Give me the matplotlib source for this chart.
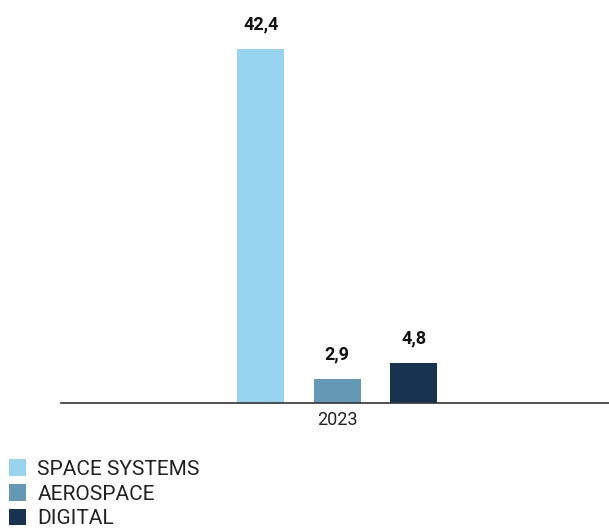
import numpy as np
import matplotlib.pyplot as plt

plt.rcParams['font.family'] = ['Roboto', 'DejaVu Sans']

year = "2023"
series = ["SPACE SYSTEMS", "AEROSPACE", "DIGITAL"]
values = [42.4, 2.9, 4.8]
labels = ["42,4", "2,9", "4,8"]
colors = ["#96d4f0", "#6399b4", "#183352"]

fig = plt.figure(figsize=(6.09, 5.30), dpi=100)
ax = fig.add_axes([61/609, 1 - 403/530, 548/609, 403/530])

x = np.arange(len(values)) - 1
for xi, v, lab, c, name in zip(x, values, labels, colors, series):
    ax.bar(xi, v, width=0.61, color=c, label=name)
    ax.text(xi, v + 1.8, lab, ha='center', va='bottom', fontsize=13,
            fontweight='bold', color='#111111')

ax.set_xlim(-3.61, 3.55)
ax.set_ylim(0, 48.26)
ax.set_xticks([0])
ax.set_xticklabels([year], fontsize=13, color='#222222')
ax.tick_params(axis='x', length=0, pad=6)
ax.set_yticks([])
for s in ['left', 'right', 'top']:
    ax.spines[s].set_visible(False)
ax.spines['bottom'].set_color('#333333')
ax.spines['bottom'].set_linewidth(1.2)

fig.legend(loc='upper left', bbox_to_anchor=(0.005, 1 - 453/530), frameon=False,
           fontsize=15, handlelength=0.8, handleheight=0.85, handletextpad=0.55,
           labelspacing=0.25, borderaxespad=0, borderpad=0.3,
           labelcolor='#222222')

fig.savefig("out.png", dpi=100)
